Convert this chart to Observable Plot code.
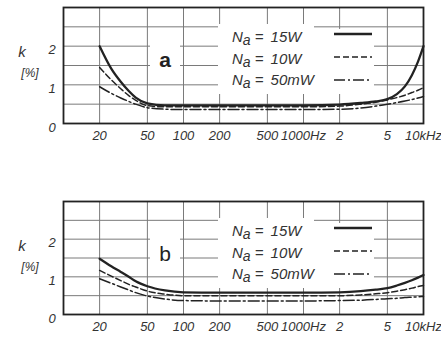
<!DOCTYPE html>
<html><head><meta charset="utf-8">
<script src="https://cdn.jsdelivr.net/npm/d3@7"></script>
<script src="https://cdn.jsdelivr.net/npm/@observablehq/plot@0.6"></script>
<style>
body{margin:0;background:#fff;width:441px;height:337px;overflow:hidden}
#chart svg{display:block}
</style></head><body><div id="chart"></div>
<script>
// Frequencies (Hz)
const freqs = [20,25,30,35,40,50,70,100,200,500,1000,2000,3000,4000,5000,6000,7000,8000,9000,10000];
// Panel a: distortion k [%]
const a15W  = [2.0,1.42,1.08,0.84,0.67,0.52,0.47,0.47,0.47,0.47,0.47,0.49,0.53,0.57,0.63,0.76,0.96,1.25,1.6,2.0];
const a10W  = [1.45,1.13,0.9,0.72,0.6,0.46,0.43,0.43,0.43,0.43,0.43,0.45,0.5,0.55,0.61,0.67,0.73,0.8,0.86,0.93];
const a50mW = [0.95,0.78,0.66,0.57,0.5,0.41,0.37,0.36,0.36,0.36,0.36,0.37,0.4,0.45,0.5,0.54,0.58,0.62,0.66,0.7];
// Panel b
const b15W  = [1.48,1.28,1.13,1.0,0.88,0.75,0.64,0.59,0.58,0.58,0.58,0.59,0.62,0.66,0.7,0.77,0.84,0.91,0.98,1.05];
const b10W  = [1.17,1.02,0.9,0.8,0.73,0.62,0.54,0.5,0.5,0.5,0.5,0.5,0.52,0.55,0.58,0.62,0.66,0.7,0.74,0.77];
const b50mW = [0.95,0.83,0.73,0.65,0.58,0.49,0.41,0.37,0.36,0.36,0.36,0.37,0.38,0.4,0.42,0.43,0.45,0.46,0.47,0.48];

const xGridTicks = [20,50,100,200,500,1000,2000,5000];
const xLabelTicks = [20,50,100,200,500,1000,2000,5000,10000];
const xTickLabels = ["20","50","100","200","500","1000Hz","2","5","10kHz"];
const yGridTicks = [0.5,1,1.5,2,2.5];
const yLabelTicks = [0,1,2];
const legendLabels = ["15W","10W","50mW"];
const panelNames = ["a","b"];
const yLabel = "k";
const yUnit = "[%]";

const FONT = "'Liberation Sans', Arial, sans-serif";
const INK = "#222";
const seriesStyle = [
  {strokeWidth: 2.3, dash: null},
  {strokeWidth: 1.5, dash: "6,3"},
  {strokeWidth: 1.5, dash: "11,3,2,3"}
];

function overlay(panelIdx) {
  return (index, scales, values, dim) => {
    const L = dim.marginLeft, T = dim.marginTop;
    const g = d3.create("svg:g");
    g.append("rect").attr("x", L + 155).attr("y", T + 17).attr("width", 96).attr("height", 70).attr("fill", "#fff");
    g.append("rect").attr("x", L + 250).attr("y", T + 22).attr("width", 61).attr("height", 65).attr("fill", "#fff");
    g.append("rect").attr("x", L + 87).attr("y", T + 30).attr("width", 30).attr("height", 40).attr("fill", "#fff");
    return g.node();
  };
}

function legend(panelIdx) {
  return (index, scales, values, dim) => {
    const L = dim.marginLeft, T = dim.marginTop;
    const g = d3.create("svg:g").attr("font-family", FONT).attr("fill", "#333");
    const rowText = [35, 57, 78];
    const rowLine = [27, 50, 73];
    legendLabels.forEach((lab, i) => {
      const t = g.append("text").attr("x", L + 169).attr("y", T + rowText[i])
        .attr("text-anchor", "start")
        .attr("font-style", "italic").attr("font-size", 15);
      t.append("tspan").text("N");
      t.append("tspan").attr("font-size", 14).attr("dy", 3).text("a");
      t.append("tspan").attr("dy", -3).attr("dx", 4).text("= ");
      t.append("tspan").attr("dx", 3).text(lab);
      const s = seriesStyle[i];
      g.append("line").attr("x1", L + 271).attr("x2", L + 309)
        .attr("y1", T + rowLine[i]).attr("y2", T + rowLine[i])
        .attr("stroke", INK).attr("stroke-width", s.strokeWidth)
        .attr("stroke-dasharray", s.dash);
    });
    g.append("text").attr("x", L + 102).attr("y", T + 60).attr("text-anchor", "middle")
      .attr("font-size", 21).attr("font-weight", panelIdx === 0 ? "bold" : "normal")
      .attr("fill", "#222").text(panelNames[panelIdx]);
    g.append("text").attr("x", 22).attr("y", T + 50).attr("text-anchor", "middle")
      .attr("font-style", "italic").attr("font-size", 15).text(yLabel);
    g.append("text").attr("x", 30).attr("y", T + 70).attr("text-anchor", "middle")
      .attr("font-style", "italic").attr("font-size", 12).text(yUnit);
    return g.node();
  };
}

function panel(panelIdx, series, height, marginTop, marginBottom) {
  const lineMarks = series.map((vals, i) => {
    const rows = freqs.map((f, j) => ({f, k: vals[j]}));
    return Plot.line(rows, {x: "f", y: "k", curve: "monotone-x", stroke: INK,
      strokeWidth: seriesStyle[i].strokeWidth, strokeDasharray: seriesStyle[i].dash});
  });
  return Plot.plot({
    width: 441, height, marginLeft: 63, marginRight: 18, marginTop, marginBottom,
    style: {fontFamily: FONT, fontSize: "13px", background: "#fff", color: "#333"},
    x: {type: "log", domain: [10, 10000], axis: null},
    y: {domain: [0, 3], axis: null},
    marks: [
      Plot.ruleX(xGridTicks, {x: d => d, stroke: "#7a7a7a", strokeWidth: 1}),
      Plot.ruleY(yGridTicks, {y: d => d, stroke: "#7a7a7a", strokeWidth: 1}),
      overlay(panelIdx),
      Plot.frame({stroke: "#222", strokeWidth: 1.8}),
      ...lineMarks,
      legend(panelIdx),
      Plot.text(xLabelTicks, {x: d => d, text: (d, i) => xTickLabels[i], frameAnchor: "bottom",
        dy: 16, fontStyle: "italic", fontSize: 13, fill: "#333"}),
      Plot.text(yLabelTicks, {y: d => d, text: d => String(d), frameAnchor: "left",
        dx: -15, dy: 4, fontStyle: "italic", fontSize: 13, fill: "#333"})
    ]
  });
}

const root = document.getElementById("chart");
root.append(panel(0, [a15W, a10W, a50mW], 160, 7, 37));
root.append(panel(1, [b15W, b10W, b50mW], 177, 41, 23));
</script></body></html>
